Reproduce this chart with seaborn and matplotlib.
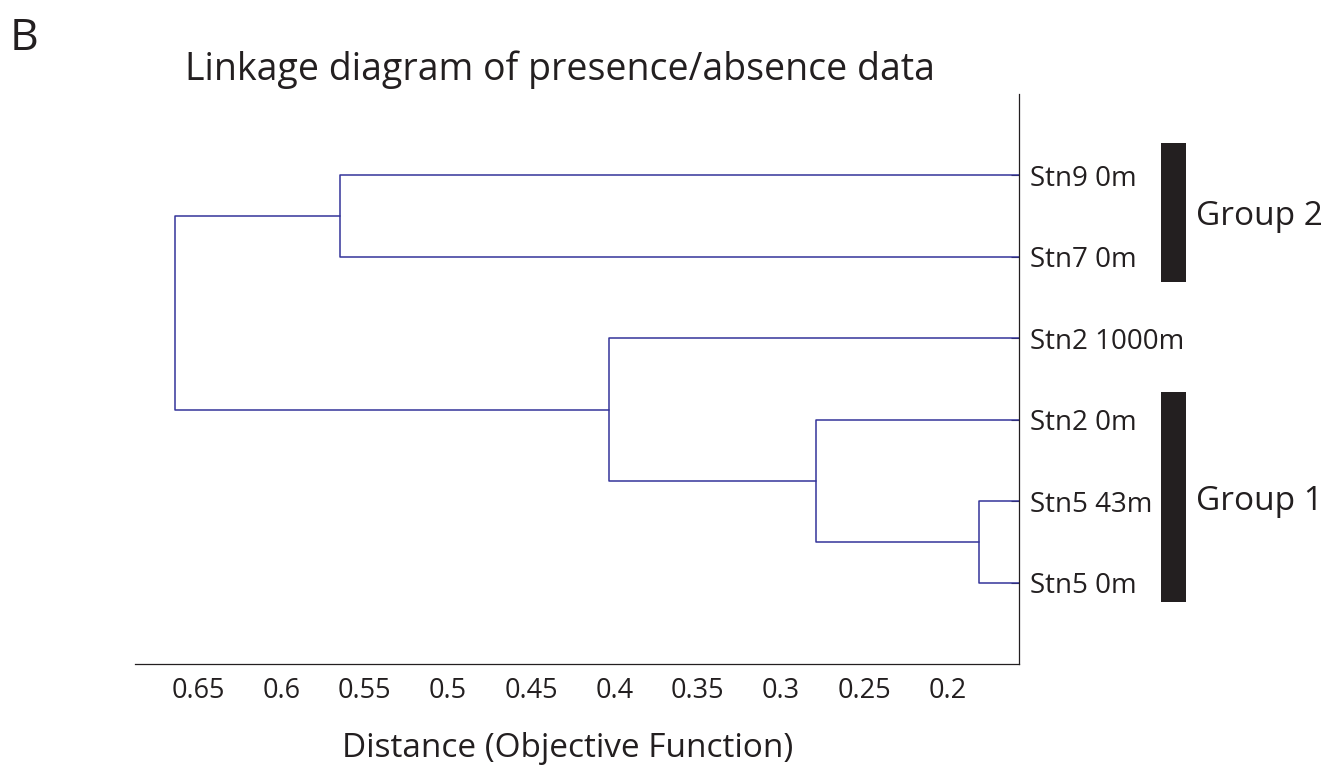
import numpy as np
import pandas as pd
import matplotlib
matplotlib.use("Agg")
import matplotlib.pyplot as plt
import matplotlib.transforms as mtransforms
import seaborn as sns

# ---- data ----
# leaves listed bottom to top (dendrogram order)
leaf_labels = ["Stn5 0m", "Stn5 43m", "Stn2 0m", "Stn2 1000m", "Stn7 0m", "Stn9 0m"]
# linkage: (child A, child B, distance); new clusters get ids 6, 7, ...
link_a = [0, 2, 3, 4, 8]
link_b = [1, 6, 7, 5, 9]
link_h = [0.181, 0.279, 0.403, 0.565, 0.664]
x_ticks = [0.65, 0.6, 0.55, 0.5, 0.45, 0.4, 0.35, 0.3, 0.25, 0.2]
x_tick_labels = ["0.65", "0.6", "0.55", "0.5", "0.45", "0.4", "0.35", "0.3", "0.25", "0.2"]
group_names = ["Group 2", "Group 1"]
group_lo = [4.69, 0.76]
group_hi = [6.40, 3.34]
group_label_y = [5.5, 2.0]

# ---- build dendrogram segments ----
n = len(leaf_labels)
ypos = {i: i + 1.0 for i in range(n)}
hpos = {i: 0.0 for i in range(n)}
rows = []
for k, (a, b, h) in enumerate(zip(link_a, link_b, link_h)):
    cid = n + k
    pts = [(hpos[a], ypos[a]), (h, ypos[a]), (h, ypos[b]), (hpos[b], ypos[b])]
    for j, (xx, yy) in enumerate(pts):
        rows.append({"dist": xx, "pos": yy, "seg": k, "order": j})
    ypos[cid] = (ypos[a] + ypos[b]) / 2
    hpos[cid] = h
df = pd.DataFrame(rows)

sns.set_theme(style="white")
font_fam = ["Open Sans", "DejaVu Sans"]
plt.rcParams["font.family"] = font_fam
ink = "#231f20"
line_col = "#34349a"

fig = plt.figure(figsize=(13.39, 7.68), dpi=100)
ax = fig.add_axes([0.1006, 0.1354, 0.6604, 0.7422])

sns.lineplot(data=df, x="dist", y="pos", units="seg", estimator=None, sort=False,
             color=line_col, linewidth=1.1, ax=ax, legend=False)

ax.set_xlim(0.688, 0.157)
ax.set_ylim(0, 7)
ax.set_xticks(x_ticks)
ax.set_xticklabels(x_tick_labels)
ax.set_yticks(range(1, n + 1))
ax.set_yticklabels(leaf_labels)
ax.yaxis.tick_right()
for s in ["left", "top"]:
    ax.spines[s].set_visible(False)
for s in ["right", "bottom"]:
    ax.spines[s].set_visible(True)
    ax.spines[s].set_color(ink)
    ax.spines[s].set_linewidth(0.9)
ax.tick_params(axis="x", direction="in", length=6, width=0.8, color=ink,
               labelsize=19.5, labelcolor=ink, pad=9)
ax.tick_params(axis="y", direction="in", length=6, width=0.8, color=ink,
               labelsize=20, labelcolor=ink, pad=8, right=True, left=False,
               labelright=True, labelleft=False)
ax.set_xlabel("Distance (Objective Function)", fontsize=24, color=ink, va="baseline")
ax.xaxis.set_label_coords(0.49, -(757 - 664) / 570)
ax.set_ylabel("")
ax.grid(False)

# group bars and labels
trans = mtransforms.blended_transform_factory(ax.transAxes, ax.transData)
for name, lo, hi, ly in zip(group_names, group_lo, group_hi, group_label_y):
    ax.add_patch(plt.Rectangle((1.1606, lo), 0.0283, hi - lo, transform=trans,
                               color=ink, clip_on=False, lw=0))
    ax.text(1.2, ly, name, transform=trans, fontsize=24, color=ink,
            ha="left", va="center")

fig.text(185 / 1339, 1 - 80 / 768, "Linkage diagram of presence/absence data",
         fontsize=27, color=ink, ha="left", va="baseline")
fig.text(10 / 1339, 1 - 50 / 768, "B", fontsize=32, color=ink, ha="left", va="baseline")

fig.savefig("out.png", dpi=100, facecolor="white")
